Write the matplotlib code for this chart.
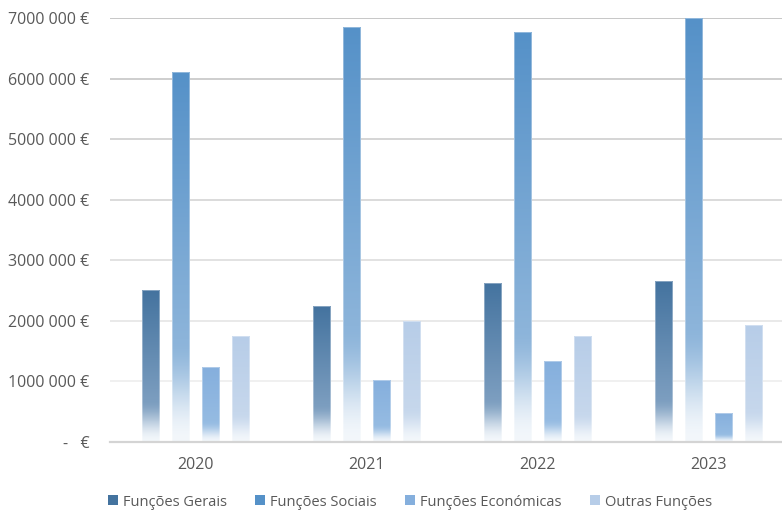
import numpy as np
import matplotlib
matplotlib.use("Agg")
import matplotlib.pyplot as plt
from matplotlib.colors import to_rgb
from matplotlib.patches import Rectangle

plt.rcParams['font.family'] = ['Open Sans', 'DejaVu Sans']

anos = ['2020', '2021', '2022', '2023']
series = ['Funções Gerais', 'Funções Sociais', 'Funções Económicas', 'Outras Funções']
gerais = [2510000, 2240000, 2630000, 2650000]
sociais = [6110000, 6850000, 6770000, 7000000]
economicas = [1230000, 1020000, 1340000, 480000]
outras = [1750000, 2000000, 1740000, 1930000]
yticks = [0, 1000000, 2000000, 3000000, 4000000, 5000000, 6000000, 7000000]

valores = [gerais, sociais, economicas, outras]
cores = ['#44739f', '#5591c8', '#85afdd', '#b7cde8']
cor_meio = ['#7b9dbf', '#8cb4da', '#95bbe2', '#c6d7ec']
fundo = '#f3f7fb'
texto = '#595959'


def gradiente(topo, meio, n=300):
    # vertical ramp: top colour -> lighter mid -> almost white at the base
    t = np.linspace(0, 1, n)
    c0, c1, c2 = np.array(to_rgb(topo)), np.array(to_rgb(meio)), np.array(to_rgb(fundo))
    out = np.zeros((n, 1, 3))
    for i, v in enumerate(t):
        if v < 0.72:
            a = v / 0.72
            out[i, 0] = c0 * (1 - a) + c1 * a
        else:
            a = (v - 0.72) / 0.28
            a = a * a * (3 - 2 * a)
            out[i, 0] = c1 * (1 - a) + c2 * a
    return out


fig = plt.figure(figsize=(7.82, 5.12), dpi=100)
ax = fig.add_axes([110 / 782, (512 - 441.7) / 512, 684 / 782, 423.7 / 512])

x = np.arange(len(anos))
passo = 0.177
largura = 0.0995
for k, (nome, vals) in enumerate(zip(series, valores)):
    pos = x + (k - 1.5) * passo
    barras = ax.bar(pos, vals, largura, color='none', edgecolor='none', zorder=3)
    img = gradiente(cores[k], cor_meio[k])
    for b in barras:
        x0, w, h = b.get_x(), b.get_width(), b.get_height()
        im = ax.imshow(img, extent=(x0, x0 + w, 0, h), aspect='auto',
                       origin='upper', zorder=3, interpolation='bilinear')
        im.set_clip_path(b)
        ax.add_patch(Rectangle((x0, 0), w, h, facecolor='none',
                               edgecolor='white', linewidth=0.5, alpha=0.5, zorder=4))

ax.set_xlim(-0.5, 3.5)
ax.set_ylim(0, 7000000)

# gridlines get lighter towards the base
cinzas = np.linspace(0.94, 0.78, len(yticks) - 1)
for v, g in zip(yticks[1:], cinzas):
    ax.axhline(v, color=(g, g, g), linewidth=1.4, zorder=1)
ax.axhline(0, color='#d4d4d4', linewidth=1.6, zorder=5, clip_on=False)

ax.set_yticks(yticks)
ax.set_yticklabels([f'{v // 1000} 000 €' if v else '-   €' for v in yticks])
ax.set_xticks(x)
ax.set_xticklabels(anos)
ax.tick_params(length=0, labelsize=11.5, colors=texto)
ax.tick_params(axis='y', pad=15)
ax.tick_params(axis='x', pad=11)
for s in ax.spines.values():
    s.set_visible(False)

# one legend entry per series, spaced like the original layout
leg_x = [108, 255, 405, 590]
for nome, cor, px in zip(series, cores, leg_x):
    fig.legend([Rectangle((0, 0), 1, 1, facecolor=cor)], [nome],
               loc='center left', bbox_to_anchor=(px / 782, 10 / 512),
               frameon=False, fontsize=10.5, handlelength=0.69, handleheight=0.69,
               handletextpad=0.35, labelcolor=texto,
               borderpad=0, borderaxespad=0)

fig.savefig('out.png', dpi=100, facecolor='white')
